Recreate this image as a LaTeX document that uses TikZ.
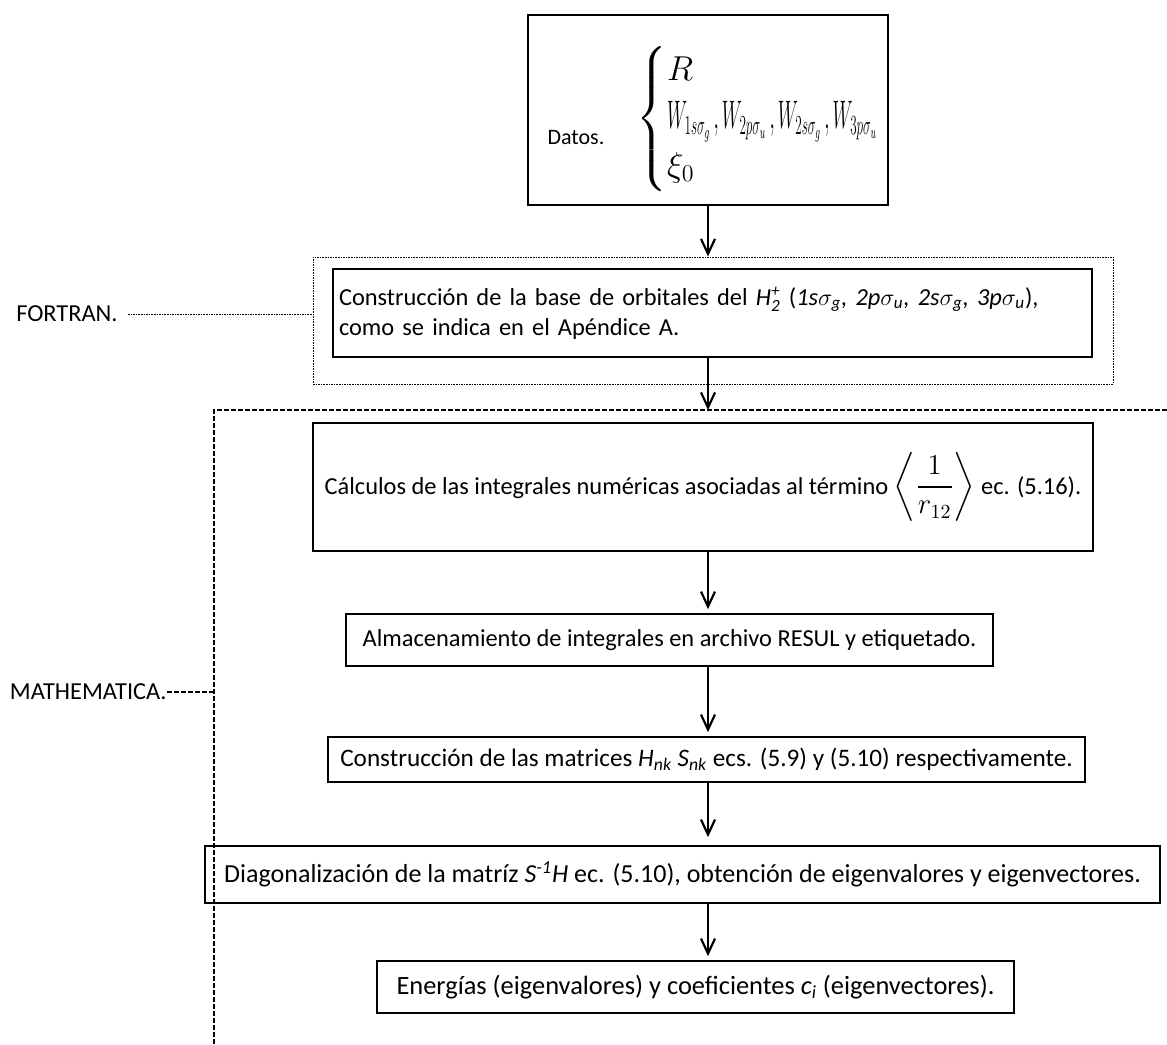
\documentclass[tikz,border=0pt]{standalone}
\usepackage{amsmath}
\usepackage{graphicx}
\usepackage{fontspec}
\setmainfont{Carlito}
\usetikzlibrary{arrows.meta}
\tikzset{
  box/.style={draw, line width=0.8pt, inner sep=0pt},
  arr/.style={-{Straight Barb[length=7.5pt,width=7pt,line width=1.1pt]}, line width=1.1pt},
  fortframe/.style={line width=0.5pt, dash pattern=on 0.8pt off 0.5pt},
  mathframe/.style={line width=0.6pt, dash pattern=on 2.5pt off 1pt},
}

\begin{document}
\begin{tikzpicture}[x=0.5pt, y=-0.5pt, font=\fontsize{12.2}{15}\selectfont]
    \useasboundingbox (0,0) rectangle (1167,1044);
    \node[box, minimum width=180pt, minimum height=95pt] (datos) at (708,110) {};
    \node[font=\fontsize{11}{13}\selectfont] (datoslbl) at (576,138) {Datos.};
    \node[anchor=west, inner sep=0pt, font=\fontsize{17}{20}\selectfont] (datosmath) at (636,119)
        {$\renewcommand{\arraystretch}{1.2}\left\{\begin{array}{@{}l@{}} R \\
        \scalebox{0.55}[1.15]{$W_{1s\sigma_g}\,,W_{2p\sigma_u}\,,W_{2s\sigma_g}\,,W_{3p\sigma_u}$} \\
        \xi_0 \end{array}\right.$};
    \node[draw, fortframe, minimum width=400pt, minimum height=63.5pt] (fortran) at (713,320.5) {};
    \node[box, text width=373.5pt, inner xsep=3pt, minimum height=44pt, align=left] (constr) at (712.5,313)
        {Construcción de la base de orbitales del \textit{H}$_{\textit{2}}^{\textit{+}}$ (\textit{1s}$\sigma_{\textit{g}}$\textit{, 2p}$\sigma_{\textit{u}}$\textit{, 2s}$\sigma_{\textit{g}}$\textit{, 3p}$\sigma_{\textit{u}}$),\\
        como se indica en el Apéndice A.};
    \coordinate (mathcorner) at (214,410);
    \draw[mathframe] (mathcorner |- 0,1044) -- (mathcorner) -- (1167,410);
    \node[box, minimum width=390pt, minimum height=64pt] (calc) at (703,487)
        {Cálculos de las integrales numéricas asociadas al término
        {\fontsize{14}{16}\selectfont$\displaystyle\left\langle\frac{1}{r_{12}}\right\rangle$} ec. (5.16).};
    \node[box, minimum width=323.5pt, minimum height=26pt] (almac) at (669.5,640)
        {Almacenamiento de integrales en archivo RESUL y etiquetado.};
    \node[box, minimum width=378.5pt, minimum height=22.5pt, font=\fontsize{12.6}{15}\selectfont] (matr) at (706.5,759.5)
        {Construcción de las matrices \textit{H}$_{\textit{nk}}$ \textit{S}$_{\textit{nk}}$ ecs. (5.9) y (5.10) respectivamente.};
    \node[box, minimum width=477.5pt, minimum height=28.5pt, font=\fontsize{13}{15}\selectfont] (diag) at (682.5,874.5)
        {Diagonalización de la matríz \textit{S}$^{\textit{-1}}$\textit{H} ec. (5.10), obtención de eigenvalores y eigenvectores.};
    \node[box, minimum width=318.5pt, minimum height=26pt, font=\fontsize{13.2}{15}\selectfont] (energ) at (695.5,987)
        {Energías (eigenvalores) y coeficientes \textit{c}$_{\textit{i}}$ (eigenvectores).};
    \node[anchor=east, inner sep=0pt] (fortlbl) at (118,314) {FORTRAN.};
    \node[anchor=east, inner sep=0pt] (mathlbl) at (167,692) {MATHEMATICA.};
    \draw[fortframe, shorten <=5pt] (fortlbl.east) -- (fortlbl.east -| fortran.west);
    \draw[mathframe] (mathlbl.east) -- (mathlbl.east -| mathcorner);
    \draw[arr] (datos.south) -- (datos.south |- fortran.north);
    \draw[arr] (datos.south |- constr.south) -- (datos.south |- mathcorner);
    \draw[arr, shorten >=2pt] (datos.south |- calc.south) -- (datos.south |- almac.north);
    \draw[arr, shorten >=2pt] (datos.south |- almac.south) -- (datos.south |- matr.north);
    \draw[arr, shorten >=4pt] (datos.south |- matr.south) -- (datos.south |- diag.north);
    \draw[arr, shorten >=2pt] (datos.south |- diag.south) -- (datos.south |- energ.north);
\end{tikzpicture}
\end{document}
